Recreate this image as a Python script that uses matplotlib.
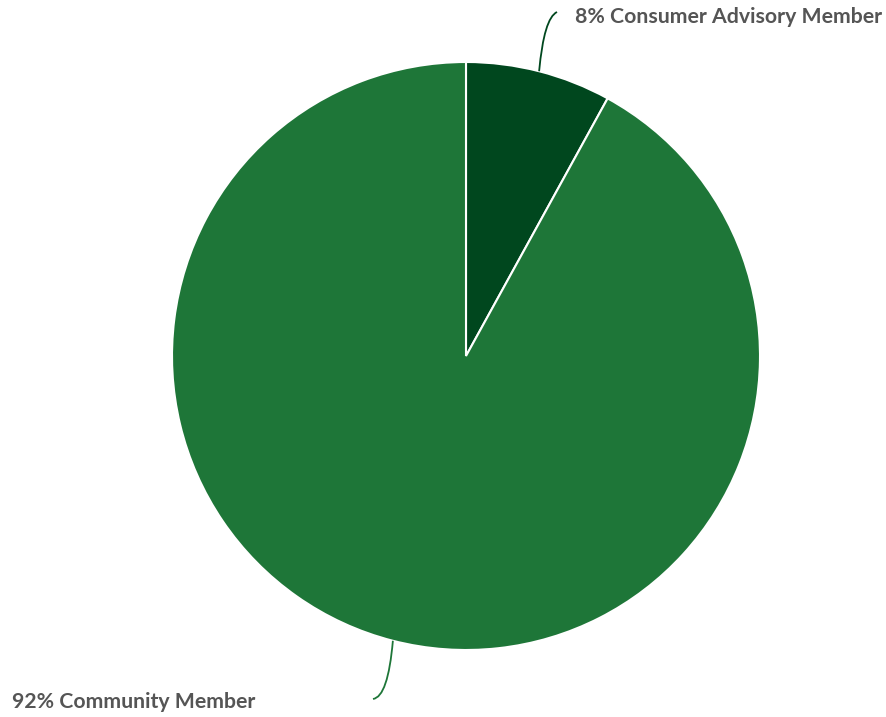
import numpy as np
import matplotlib.pyplot as plt
from matplotlib.path import Path
from matplotlib.patches import PathPatch

labels = ['Consumer Advisory Member', 'Community Member']
shares = [8, 92]
colors = ['#00471e', '#1e7638']
line_colors = ['#00471e', '#1e7638']

W, H = 887, 717
fig = plt.figure(figsize=(W / 100, H / 100), dpi=100)
ax = fig.add_axes([0, 0, 1, 1])

cx, cy, r = 466, H - 356, 294
wedges, _ = ax.pie(shares, colors=colors, startangle=90, counterclock=False,
                   center=(cx, cy), radius=r, frame=True,
                   wedgeprops=dict(edgecolor='white', linewidth=1.5))
ax.set_xlim(0, W)
ax.set_ylim(0, H)
ax.set_aspect('equal')
ax.axis('off')

# label positions (pixels, y from top)
text_pos = [(575, 17), (12, 702)]
line_end = [(557, 12), (373, 699)]
bend = [(544, 18), (388, 697)]

for w, lab, val, tp, le, bd, lc in zip(wedges, labels, shares, text_pos,
                                       line_end, bend, line_colors):
    mid = np.deg2rad((w.theta1 + w.theta2) / 2)
    sx, sy = cx + r * np.cos(mid), cy + r * np.sin(mid)
    p = Path([(sx, sy), (bd[0], H - bd[1]), (le[0], H - le[1])],
             [Path.MOVETO, Path.CURVE3, Path.CURVE3])
    ax.add_patch(PathPatch(p, facecolor='none', edgecolor=lc, lw=1.3))
    ax.text(tp[0], H - tp[1], f'{val}% {lab}', ha='left', va='center',
            fontsize=15.3, fontweight='bold', family='Lato', color='#555555')

fig.savefig('out.png', dpi=100)
